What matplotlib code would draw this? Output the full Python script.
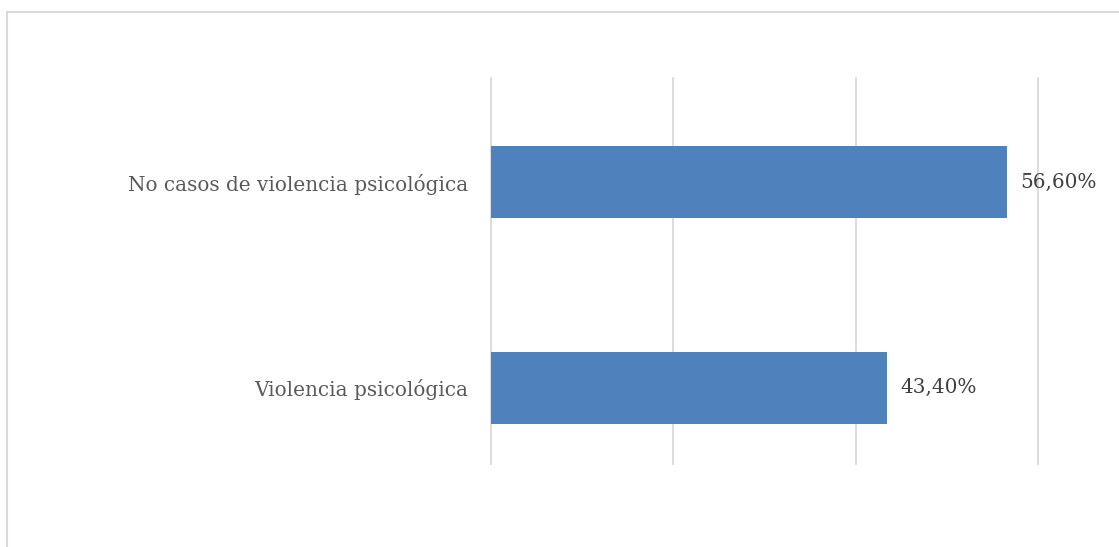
import matplotlib
matplotlib.use("Agg")
import matplotlib.pyplot as plt
from matplotlib.patches import Rectangle

categories = ["Violencia psicológica", "No casos de violencia psicológica"]
values = [43.40, 56.60]
value_labels = ["43,40%", "56,60%"]
x_ticks = [0, 20, 40, 60]

W, H = 1119, 547
fig = plt.figure(figsize=(W / 100, H / 100), dpi=100)
fig.patch.set_facecolor("white")

# light frame around the chart area
fig.patches.append(Rectangle((7 / W, -0.1), 1.2, 1.1 - 12 / H,
                             transform=fig.transFigure, fill=False,
                             edgecolor="#D9D9D9", linewidth=1.5, zorder=0))

ax = fig.add_axes([491 / W, 1 - 464 / H, (1038 - 491) / W, (464 - 78) / H])
ax.set_xlim(0, 60)
ax.set_ylim(-0.372, 1.506)

ax.barh(range(len(categories)), values, height=0.35, color="#4F81BD", zorder=2)

# vertical gridlines, kept whole at the axes edges
for xt in x_ticks:
    ax.axvline(xt, color="#D9D9D9", linewidth=1.3, zorder=0, clip_on=False)

ax.set_xticks(x_ticks)
ax.tick_params(axis="x", length=0, labelbottom=False)
ax.tick_params(axis="y", length=0, pad=16.5)
ax.set_yticks(range(len(categories)))
ax.set_yticklabels(categories, fontsize=14.4, family="DejaVu Serif", color="#595959")
for s in ax.spines.values():
    s.set_visible(False)

for i, (v, lab) in enumerate(zip(values, value_labels)):
    ax.text(v + 1.5, i, lab, va="center", ha="left", fontsize=14.4,
            family="DejaVu Serif", color="#404040")

fig.savefig("out.png", dpi=100)
